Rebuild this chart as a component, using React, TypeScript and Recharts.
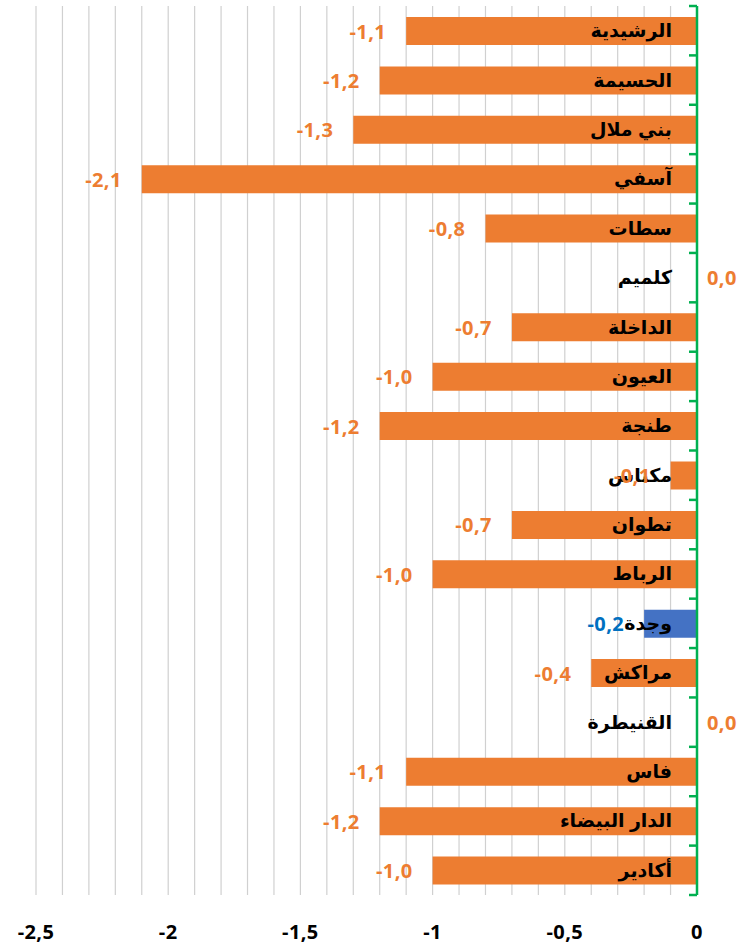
import React from 'react';
import { BarChart, Bar, XAxis, YAxis, CartesianGrid, Cell, LabelList } from 'recharts';

const cities = [
  'الرشيدية', 'الحسيمة', 'بني ملال', 'آسفي', 'سطات', 'كلميم', 'الداخلة', 'العيون', 'طنجة',
  'مكناس', 'تطوان', 'الرباط', 'وجدة', 'مراكش', 'القنيطرة', 'فاس', 'الدار البيضاء', 'أكادير',
];
const values = [-1.1, -1.2, -1.3, -2.1, -0.8, 0.0, -0.7, -1.0, -1.2, -0.1, -0.7, -1.0, -0.2, -0.4, 0.0, -1.1, -1.2, -1.0];
const highlighted = ['وجدة'];
const xTicks = [-2.5, -2, -1.5, -1, -0.5, 0];
const gridTicks = [
  -2.5, -2.4, -2.3, -2.2, -2.1, -2.0, -1.9, -1.8, -1.7, -1.6, -1.5, -1.4, -1.3,
  -1.2, -1.1, -1.0, -0.9, -0.8, -0.7, -0.6, -0.5, -0.4, -0.3, -0.2, -0.1, 0,
];

const data = cities.map((name, i) => ({ name, value: values[i] }));

const W = 742;
const H = 947;
const TOP = 6;
const XAXIS_H = 52;
const BAND = (H - TOP - XAXIS_H) / cities.length;

const ORANGE = '#ED7D31';
const BLUE = '#4472C4';
const BLUE_TEXT = '#0070C0';
const GREEN = '#00B050';
const NUM_FONT = '"Open Sans", Lato, sans-serif';
const AR_FONT = 'Arial, "Liberation Sans", "DejaVu Sans", sans-serif';

const fmtTick = (v: number) => (v === 0 ? '0' : String(v).replace('.', ','));
const fmtVal = (v: number) => v.toFixed(1).replace('.', ',');
const valueOf = (name: string) => values[cities.indexOf(name)];

const CityTick = ({ x, y, payload }: any) => {
  const i = cities.indexOf(payload.value);
  return (
    <g>
      <line x1={x - 8} x2={x} y1={y - BAND / 2} y2={y - BAND / 2} stroke={GREEN} strokeWidth={2.5} />
      {i === cities.length - 1 && (
        <line x1={x - 8} x2={x} y1={y + BAND / 2} y2={y + BAND / 2} stroke={GREEN} strokeWidth={2.5} />
      )}
      <text
        x={x - 25}
        y={y}
        textAnchor="end"
        dominantBaseline="central"
        fill="#000"
        fontFamily={AR_FONT}
        fontWeight="bold"
        fontSize={19}
      >
        {payload.value}
      </text>
      {values[i] === 0 && (
        <text
          x={x + 10}
          y={y}
          textAnchor="start"
          dominantBaseline="central"
          fill={ORANGE}
          fontFamily={NUM_FONT}
          fontWeight="bold"
          fontSize={20}
          letterSpacing={0.4}
        >
          {fmtVal(values[i])}
        </text>
      )}
    </g>
  );
};

const ValueTick = ({ x, y, payload }: any) =>
  xTicks.includes(payload.value) ? (
    <text
      x={x}
      y={y + 36}
      textAnchor="middle"
      dominantBaseline="central"
      fill="#000"
      fontFamily={NUM_FONT}
      fontWeight="bold"
      fontSize={20}
      letterSpacing={0.4}
    >
      {fmtTick(payload.value)}
    </text>
  ) : null;

const ValueLabel = ({ x, y, width, height, value }: any) => {
  const left = Math.min(x, x + width);
  const v = valueOf(value);
  const color = highlighted.includes(value) ? BLUE_TEXT : ORANGE;
  return (
    <text
      x={left - 20}
      y={y + height / 2}
      textAnchor="end"
      dominantBaseline="central"
      fill={color}
      fontFamily={NUM_FONT}
      fontWeight="bold"
      fontSize={20}
      letterSpacing={0.4}
    >
      {fmtVal(v)}
    </text>
  );
};

export default function App() {
  return (
    <div style={{ width: W, height: H, background: '#fff' }}>
      <style>{`body{margin:0}`}</style>
      <BarChart
        width={W}
        height={H}
        data={data}
        layout="vertical"
        margin={{ top: TOP, right: 0, bottom: 0, left: 36 }}
        barSize={28}
      >
        <CartesianGrid horizontal={false} stroke="#D0D0D0" strokeWidth={1.2} />
        <XAxis
          type="number"
          domain={[-2.5, 0]}
          ticks={gridTicks}
          axisLine={false}
          tickLine={false}
          tickSize={0}
          tickMargin={0}
          height={XAXIS_H}
          tick={<ValueTick />}
          interval={0}
        />
        <YAxis
          type="category"
          dataKey="name"
          orientation="right"
          width={45}
          axisLine={{ stroke: GREEN, strokeWidth: 2.5 }}
          tickLine={false}
          tickSize={0}
          tickMargin={0}
          tick={<CityTick />}
          interval={0}
        />
        <Bar dataKey="value" fill={ORANGE} isAnimationActive={false}>
          {data.map((d) => (
            <Cell key={d.name} fill={highlighted.includes(d.name) ? BLUE : ORANGE} />
          ))}
          <LabelList dataKey="name" content={<ValueLabel />} />
        </Bar>
      </BarChart>
    </div>
  );
}
